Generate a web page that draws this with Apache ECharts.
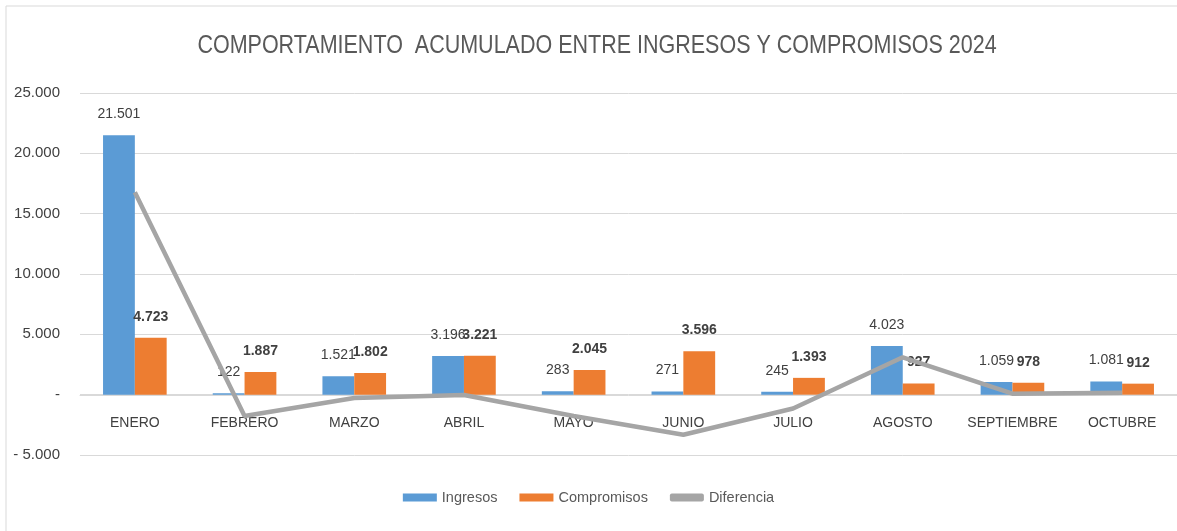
<!DOCTYPE html>
<html><head><meta charset="utf-8">
<script src="https://cdn.jsdelivr.net/npm/echarts@6/dist/echarts.min.js"></script>
<style>html,body{margin:0;padding:0;background:#fff}#c{width:1177px;height:531px}</style>
</head><body><div id="c"></div>
<script>
const categories = ['ENERO','FEBRERO','MARZO','ABRIL','MAYO','JUNIO','JULIO','AGOSTO','SEPTIEMBRE','OCTUBRE'];
const ingresos = [21501, 122, 1521, 3196, 283, 271, 245, 4023, 1059, 1081];
const compromisos = [4723, 1887, 1802, 3221, 2045, 3596, 1393, 927, 978, 912];
const diferencia = [16778, -1765, -281, -25, -1762, -3325, -1148, 3096, 81, 169];
const titleText = 'COMPORTAMIENTO  ACUMULADO ENTRE INGRESOS Y COMPROMISOS 2024';
const FONT = '"Liberation Sans", Arial, sans-serif';

function fmt(v){
  if (v === 0) return '-';
  const s = Math.abs(v).toString().replace(/\B(?=(\d{3})+(?!\d))/g, '.');
  return v < 0 ? '- ' + s : s;
}
const chart = echarts.init(document.getElementById('c'));
chart.setOption({
  backgroundColor: '#fff',
  animation: false,
  graphic: [
    {
      type: 'rect', shape: { x: 6, y: 6, width: 1180, height: 540 },
      style: { fill: 'none', stroke: '#d9d9d9', lineWidth: 1 }, silent: true, z: -1
    },
    {
      type: 'text', x: 597, y: 46, scaleX: 0.86, silent: true,
      style: { text: titleText, textAlign: 'center', textVerticalAlign: 'middle',
        fontFamily: FONT, fontSize: 25, fill: '#595959' }
    }
  ],
  legend: {
    bottom: 21, left: 'center', itemGap: 22, itemWidth: 34, itemHeight: 8,
    textStyle: { fontFamily: FONT, fontSize: 14.5, color: '#595959' },
    data: [
      { name: 'Ingresos', icon: 'rect' },
      { name: 'Compromisos', icon: 'rect' },
      { name: 'Diferencia', icon: 'roundRect' }
    ]
  },
  grid: { left: 80, right: -2, top: 93, bottom: 76 },
  xAxis: {
    type: 'category', data: categories,
    offset: -60,
    axisLine: { show: true, onZero: false, lineStyle: { color: '#d9d9d9' } },
    axisTick: { show: false },
    axisLabel: { interval: 0, fontFamily: FONT, fontSize: 14, color: '#404040', margin: 21 }
  },
  yAxis: {
    type: 'value', min: -5000, max: 25000, interval: 5000,
    splitLine: { lineStyle: { color: '#d9d9d9', width: 1 } },
    axisLine: { show: false }, axisTick: { show: false },
    axisLabel: { fontFamily: FONT, fontSize: 15, color: '#404040', margin: 20, formatter: fmt }
  },
  series: [
    {
      name: 'Ingresos', type: 'bar', data: ingresos, barGap: '0%', barCategoryGap: '42%',
      itemStyle: { color: '#5B9BD5' },
      label: { show: true, position: 'top', distance: 14, formatter: p => fmt(p.value),
        fontFamily: FONT, fontSize: 14, color: '#404040' }
    },
    {
      name: 'Compromisos', type: 'bar', data: compromisos,
      itemStyle: { color: '#ED7D31' },
      label: { show: true, position: 'top', distance: 14, formatter: p => fmt(p.value),
        fontFamily: FONT, fontSize: 14, fontWeight: 'bold', color: '#404040' }
    },
    {
      name: 'Diferencia', type: 'line', data: diferencia, symbol: 'none', z: 5,
      lineStyle: { color: '#A5A5A5', width: 4.5 }, itemStyle: { color: '#A5A5A5' }
    }
  ]
});
</script></body></html>
